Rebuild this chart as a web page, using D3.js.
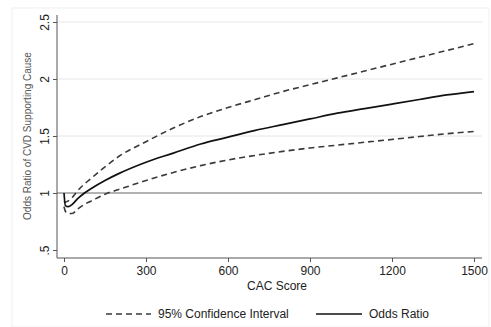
<!DOCTYPE html>
<html>
<head>
<meta charset="utf-8"/>
<script src="https://cdn.jsdelivr.net/npm/d3@7/dist/d3.min.js"></script>
<style>
  body { margin: 0; background: #fff; }
  text { font-family: 'Liberation Sans', Arial, sans-serif; fill: #222; }
  .tick text { font-size: 12px; }
</style>
</head>
<body>
<div id="chart"></div>
<script>
// CAC score grid and the fitted odds ratio with its 95% CI
const cac = [0, 5, 15, 30, 50, 75, 100, 150, 200, 300, 400, 500, 600, 700, 800, 900, 1000, 1100, 1200, 1300, 1400, 1500];
const oddsRatio = [1.0, 0.89, 0.88, 0.90, 0.95, 1.0, 1.04, 1.11, 1.17, 1.27, 1.35, 1.43, 1.49, 1.55, 1.60, 1.65, 1.70, 1.74, 1.78, 1.82, 1.86, 1.89];
const ciUpper = [0.93, 0.92, 0.93, 0.96, 1.02, 1.08, 1.13, 1.23, 1.32, 1.45, 1.57, 1.67, 1.75, 1.82, 1.89, 1.95, 2.01, 2.07, 2.13, 2.19, 2.25, 2.31];
const ciLower = [0.88, 0.84, 0.82, 0.82, 0.86, 0.90, 0.93, 0.99, 1.03, 1.11, 1.18, 1.24, 1.29, 1.33, 1.365, 1.395, 1.42, 1.445, 1.47, 1.495, 1.52, 1.54];
const xTicks = [0, 300, 600, 900, 1200, 1500];
const yTicks = [0.5, 1, 1.5, 2, 2.5];
const yTickLabels = [".5", "1", "1.5", "2", "2.5"];

const W = 491, H = 327;
const svg = d3.select("#chart").append("svg").attr("width", W).attr("height", H);

svg.append("rect").attr("x", 12).attr("y", 8).attr("width", W - 14).attr("height", H - 8)
  .attr("fill", "#fff").attr("stroke", "#f0f0f0");

const x = d3.scaleLinear().domain([0, 1500]).range([64, 474]);
const y = d3.scaleLinear().domain([0.5, 2.5]).range([250, 22]);
const axisLeft = 57, axisBottom = 258, plotRight = 482;

// grid lines
svg.append("g").selectAll("line").data(yTicks.filter(d => d > 1))
  .enter().append("line")
  .attr("x1", axisLeft).attr("x2", plotRight)
  .attr("y1", d => y(d)).attr("y2", d => y(d))
  .attr("stroke", "#e6e6e6").attr("stroke-width", 1);

// reference line at 1
svg.append("line")
  .attr("x1", axisLeft).attr("x2", plotRight)
  .attr("y1", y(1)).attr("y2", y(1))
  .attr("stroke", "#666").attr("stroke-width", 1);

// axes
const gx = svg.append("g").attr("transform", `translate(0,${axisBottom})`)
  .call(d3.axisBottom(x).tickValues(xTicks).tickFormat(d3.format("d")).tickSize(4).tickPadding(4).tickSizeOuter(0));
gx.select(".domain").attr("d", `M${axisLeft},0H${plotRight}`).attr("stroke", "#555");
gx.selectAll(".tick line").attr("stroke", "#555");

const gy = svg.append("g").attr("transform", `translate(${axisLeft},0)`)
  .call(d3.axisLeft(y).tickValues(yTicks).tickFormat((d, i) => yTickLabels[i]).tickSize(4).tickSizeOuter(0));
gy.select(".domain").attr("d", `M0,15V${axisBottom}`).attr("stroke", "#555");
gy.selectAll(".tick line").attr("stroke", "#555");
gy.selectAll(".tick text")
  .attr("x", null).attr("dy", null)
  .attr("text-anchor", "middle")
  .attr("transform", "translate(-8,0) rotate(-90)");

// axis titles
svg.append("text").attr("x", x(750) + 8).attr("y", 290)
  .attr("text-anchor", "middle").style("font-size", "12px").text("CAC Score");
svg.append("text")
  .attr("transform", `translate(31,${y(1.5)}) rotate(-90)`)
  .attr("text-anchor", "middle").style("font-size", "10px").style("fill", "#555")
  .text("Odds Ratio of CVD Supporting Cause");

// curves
const line = vals => d3.line()
  .x((d, i) => x(cac[i]))
  .y(d => y(d))
  .curve(d3.curveMonotoneX)(vals);

svg.append("path").attr("d", line(ciUpper)).attr("fill", "none")
  .attr("stroke", "#3a3a3a").attr("stroke-width", 1.6).attr("stroke-dasharray", "6,4");
svg.append("path").attr("d", line(ciLower)).attr("fill", "none")
  .attr("stroke", "#3a3a3a").attr("stroke-width", 1.6).attr("stroke-dasharray", "6,4");
svg.append("path").attr("d", line(oddsRatio)).attr("fill", "none")
  .attr("stroke", "#111").attr("stroke-width", 1.7);

// legend
const lg = svg.append("g").attr("transform", "translate(0,314)");
lg.append("line").attr("x1", 106).attr("x2", 151).attr("y1", 0).attr("y2", 0)
  .attr("stroke", "#3a3a3a").attr("stroke-width", 1.4).attr("stroke-dasharray", "6,4");
lg.append("text").attr("x", 158).attr("y", 4).style("font-size", "12px").text("95% Confidence Interval");
lg.append("line").attr("x1", 316).attr("x2", 362).attr("y1", 0).attr("y2", 0)
  .attr("stroke", "#111").attr("stroke-width", 1.4);
lg.append("text").attr("x", 369).attr("y", 4).style("font-size", "12px").text("Odds Ratio");
</script>
</body>
</html>
